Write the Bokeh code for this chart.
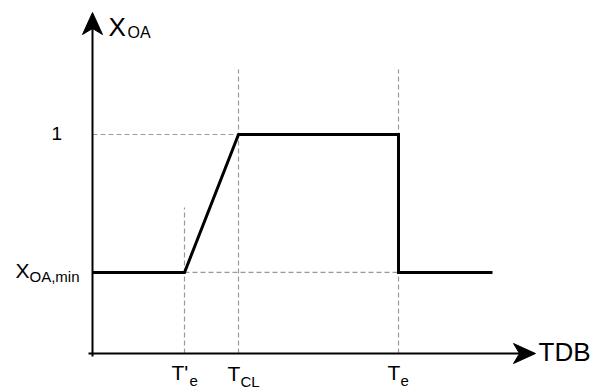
from bokeh.plotting import figure
from bokeh.models import Range1d, Label
from bokeh.embed import file_html
from bokeh.resources import INLINE

# --- data ---
tdb_pts = [0.0, 2.3, 3.65, 7.65, 7.65, 10.0]
xoa_pts = [0.37, 0.37, 1.0, 1.0, 0.37, 0.37]
T_prime_e = 2.3
T_CL = 3.65
T_e = 7.65
X_min = 0.37
X_one = 1.0
x_tick_labels = [("T'", "e"), ("T", "CL"), ("T", "e")]
y_tick_labels = [("X", "OA,min"), ("1", "")]

# pixel helpers (frame spans the full figure)
X0, SX = 92.0, 40.0
Y0, SY = 353.0, 219.0
def dx(px): return (px - X0) / SX
def dy(py): return (Y0 - py) / SY

W, H = 597, 392
p = figure(width=W, height=H, output_backend="svg", toolbar_location=None,
           x_range=Range1d(dx(0), dx(W)), y_range=Range1d(dy(H), dy(0)),
           x_axis_type=None, y_axis_type=None, min_border=0)
p.outline_line_color = None
p.grid.visible = False
p.background_fill_color = "white"

dash = dict(line_color="#9a9a9a", line_width=1.2, line_dash="5 3")
# vertical guides
p.line([T_prime_e, T_prime_e], [0, dy(207)], **dash)
p.line([T_CL, T_CL], [0, dy(69)], **dash)
p.line([T_e, T_e], [0, dy(69)], **dash)
# horizontal guides
p.line([0, T_CL], [X_one, X_one], **dash)
p.line([T_prime_e, T_e], [X_min, X_min], **dash)

# main curve
p.line(tdb_pts, xoa_pts, line_color="black", line_width=3, line_join="miter")

# axes
p.line([dx(88), dx(520)], [0, 0], line_color="black", line_width=2)
p.line([0, 0], [dy(356), dy(25)], line_color="black", line_width=2)
# filled concave arrowheads
tip_x, tip_y = 535, 353
p.patch([dx(tip_x), dx(tip_x - 22), dx(tip_x - 16), dx(tip_x - 22)],
        [dy(tip_y), dy(tip_y - 10), dy(tip_y), dy(tip_y + 10)],
        fill_color="black", line_color="black")
tip_x, tip_y = 92, 12
p.patch([dx(tip_x), dx(tip_x - 10), dx(tip_x), dx(tip_x + 10)],
        [dy(tip_y), dy(tip_y + 22), dy(tip_y + 16), dy(tip_y + 22)],
        fill_color="black", line_color="black")

FONT = "Liberation Sans"
def lab(px, py, text, size):
    p.add_layout(Label(x=dx(px), y=dy(py), text=text, text_font=FONT,
                       text_font_size=f"{size}px", text_color="black",
                       text_baseline="middle", text_align="left"))

# axis titles
lab(108, 26, "X", 26); lab(127, 32, "OA", 16)
lab(538, 351, "TDB", 26)
# y labels
lab(15, 270, y_tick_labels[0][0], 21); lab(29, 276, y_tick_labels[0][1], 15)
lab(51, 133, y_tick_labels[1][0], 19)
# x labels
lab(171, 372, x_tick_labels[0][0], 21); lab(189, 380, x_tick_labels[0][1], 15)
lab(227, 373, x_tick_labels[1][0], 21); lab(240, 381, x_tick_labels[1][1], 15)
lab(387, 372, x_tick_labels[2][0], 21); lab(400, 380, x_tick_labels[2][1], 15)

open("out.html", "w").write(file_html(p, INLINE))
